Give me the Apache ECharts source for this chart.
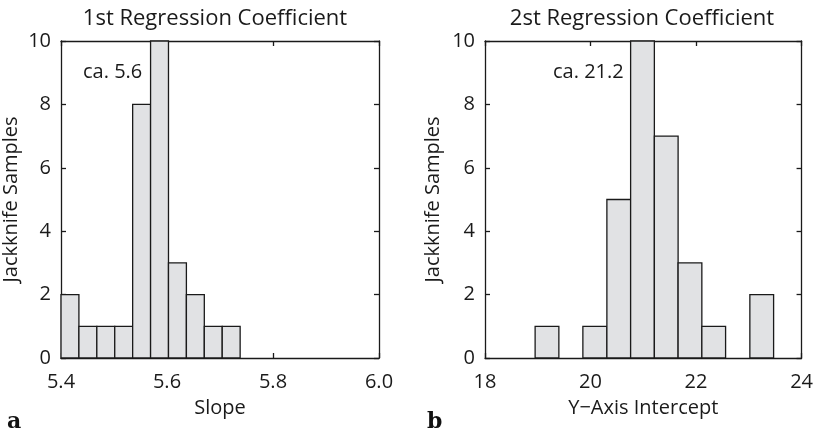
<!DOCTYPE html>
<html>
<head>
<meta charset="utf-8">
<script src="https://cdn.jsdelivr.net/npm/echarts@6/dist/echarts.min.js"></script>
<style>html,body{margin:0;padding:0;background:#fff;}#c{width:816px;height:436px;}</style>
</head>
<body>
<div id="c"></div>
<script>
// Data
var slopeEdges = [5.4, 5.4338, 5.4676, 5.5014, 5.5352, 5.569, 5.6028, 5.6366, 5.6704, 5.7042, 5.738];
var slopeCounts = [2, 1, 1, 1, 8, 10, 3, 2, 1, 1];
var interceptEdges = [18.95, 19.40, 19.855, 20.31, 20.76, 21.21, 21.66, 22.11, 22.56, 23.02, 23.47];
var interceptCounts = [1, 0, 1, 5, 10, 7, 3, 1, 0, 2];
var slopeTicks = [5.4, 6.0, 0.2];
var interceptTicks = [18, 24, 2];
var countTicks = [0, 10, 2];
var titles = ['1st Regression Coefficient', '2st Regression Coefficient'];
var xNames = ['Slope', 'Y\u2212Axis Intercept'];
var yName = 'Jackknife Samples';
var notes = ['ca. 5.6', 'ca. 21.2'];
var panelLetters = ['a', 'b'];

var FONT = 'Open Sans';
var FS = 20;
var TFS = 22;

function binData(edges, counts) {
  var d = [];
  for (var i = 0; i < counts.length; i++) {
    if (counts[i] > 0) d.push([edges[i], edges[i + 1], counts[i]]);
  }
  return d;
}

function renderBar(params, api) {
  var p0 = api.coord([api.value(0), api.value(2)]);
  var p1 = api.coord([api.value(1), 0]);
  return {
    type: 'rect',
    shape: { x: p0[0], y: p0[1], width: p1[0] - p0[0], height: p1[1] - p0[1] },
    style: { fill: '#e1e2e4', stroke: '#1a1a1a', lineWidth: 1.3 }
  };
}

var grids = [
  { left: 61, top: 41, width: 318, height: 317 },
  { left: 485, top: 41, width: 319, height: 317 }
];

var lineStyle = { color: '#1a1a1a', width: 1.3 };
var tickStyle = { show: true, inside: true, length: 5, lineStyle: { color: '#1a1a1a', width: 1.3 } };
var labelStyle = { color: '#1a1a1a', fontFamily: FONT, fontSize: FS };

function xAxes(gi, t, name) {
  return [
    { type: 'value', gridIndex: gi, min: t[0], max: t[1], interval: t[2], position: 'bottom',
      axisLine: { show: true, onZero: false, lineStyle: lineStyle }, axisTick: tickStyle,
      axisLabel: Object.assign({ margin: 14, formatter: function (v) { return t[2] < 1 ? v.toFixed(1) : String(v); } }, labelStyle),
      splitLine: { show: false },
      name: name, nameLocation: 'middle', nameGap: 40,
      nameTextStyle: labelStyle },
    { type: 'value', gridIndex: gi, min: t[0], max: t[1], interval: t[2], position: 'top',
      axisLine: { show: true, onZero: false, lineStyle: lineStyle }, axisTick: tickStyle,
      axisLabel: { show: false }, splitLine: { show: false } }
  ];
}
function yAxes(gi, margin, gap) {
  return [
    { type: 'value', gridIndex: gi, min: countTicks[0], max: countTicks[1], interval: countTicks[2], position: 'left',
      axisLine: { show: true, onZero: false, lineStyle: lineStyle }, axisTick: tickStyle,
      axisLabel: Object.assign({ margin: margin }, labelStyle), splitLine: { show: false },
      name: yName, nameLocation: 'middle', nameGap: gap, nameRotate: 90,
      nameTextStyle: labelStyle },
    { type: 'value', gridIndex: gi, min: countTicks[0], max: countTicks[1], interval: countTicks[2], position: 'right',
      axisLine: { show: true, onZero: false, lineStyle: lineStyle }, axisTick: tickStyle,
      axisLabel: { show: false }, splitLine: { show: false } }
  ];
}

var option = {
  animation: false,
  backgroundColor: '#fff',
  title: [
    { text: titles[0], left: 210, top: 3, textAlign: 'center', textStyle: { color: '#1a1a1a', fontFamily: FONT, fontSize: TFS, fontWeight: 'normal' } },
    { text: titles[1], left: 637, top: 3, textAlign: 'center', textStyle: { color: '#1a1a1a', fontFamily: FONT, fontSize: TFS, fontWeight: 'normal' } }
  ],
  grid: grids,
  xAxis: xAxes(0, slopeTicks, xNames[0]).concat(xAxes(1, interceptTicks, xNames[1])),
  yAxis: yAxes(0, 10, 40).concat(yAxes(1, 10, 42)),
  series: [
    { type: 'custom', xAxisIndex: 0, yAxisIndex: 0, renderItem: renderBar, data: binData(slopeEdges, slopeCounts), z: 1 },
    { type: 'custom', xAxisIndex: 2, yAxisIndex: 2, renderItem: renderBar, data: binData(interceptEdges, interceptCounts), z: 1 }
  ],
  graphic: [
    { type: 'text', left: 83, top: 62, style: { text: notes[0], fill: '#1a1a1a', font: FS + 'px "' + FONT + '"' } },
    { type: 'text', left: 553, top: 62, style: { text: notes[1], fill: '#1a1a1a', font: FS + 'px "' + FONT + '"' } },
    { type: 'text', left: 7, top: 411, style: { text: panelLetters[0], fill: '#111', font: 'bold 22px "DejaVu Serif"' } },
    { type: 'text', left: 427, top: 411, style: { text: panelLetters[1], fill: '#111', font: 'bold 22px "DejaVu Serif"' } }
  ]
};

var chart = echarts.init(document.getElementById('c'), null, { renderer: 'canvas' });
chart.setOption(option);
</script>
</body>
</html>
